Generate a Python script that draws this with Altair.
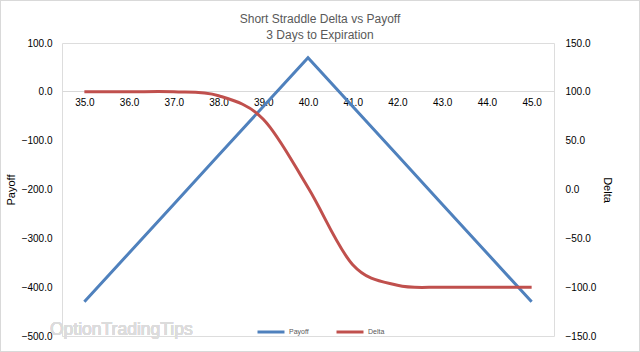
import altair as alt
import pandas as pd

# Data
prices = [35.0, 36.0, 37.0, 38.0, 39.0, 40.0, 41.0, 42.0, 43.0, 44.0, 45.0]
payoff = [-430, -330, -230, -130, -30, 70, -30, -130, -230, -330, -430]
delta = [100, 100, 100, 96, 72, 2, -77, -98, -100, -100, -100]

series_names = ["Payoff", "Delta"]
series_colors = ["#4F81BD", "#C0504D"]
payoff_ticks = [-500, -400, -300, -200, -100, 0, 100]
delta_ticks = [-150, -100, -50, 0, 50, 100, 150]

df = pd.DataFrame({"price": prices, "payoff": payoff, "delta": delta})

FONT = "Liberation Sans"
TXT = "#595959"
W, H = 492, 293

color = alt.Color(
    "series:N",
    scale=alt.Scale(domain=series_names, range=series_colors),
    legend=alt.Legend(
        orient="none", legendX=194, legendY=274, direction="horizontal",
        title=None, symbolType="stroke", symbolSize=729, symbolStrokeWidth=3,
        labelFontSize=7, labelColor=TXT, labelFont=FONT, labelOffset=3,
        columnPadding=21,
    ),
)

xenc = alt.X(
    "price:Q",
    scale=alt.Scale(domain=[34.5, 45.5], nice=False, zero=False),
    axis=alt.Axis(values=prices, format=".1f", offset=-245, ticks=False,
                  grid=False, domainColor="#D9D9D9", domainWidth=1,
                  labelPadding=6, title=None),
)

pay = alt.Chart(df).transform_calculate(series="'Payoff'").mark_line(
    strokeWidth=3
).encode(
    x=xenc,
    y=alt.Y("payoff:Q", scale=alt.Scale(domain=[-500, 100], nice=False),
            axis=alt.Axis(orient="left", values=payoff_ticks, format=".1f",
                          ticks=False, grid=False, domain=False,
                          labelPadding=10, title="Payoff", titlePadding=5,
                          titleFontWeight=400)),
    color=color,
)

dl = alt.Chart(df).transform_calculate(series="'Delta'").mark_line(
    strokeWidth=3, interpolate="cardinal", tension=0
).encode(
    x=alt.X("price:Q"),
    y=alt.Y("delta:Q", scale=alt.Scale(domain=[-150, 150], nice=False),
            axis=alt.Axis(orient="right", values=delta_ticks, format=".1f",
                          ticks=False, grid=False, domain=False,
                          labelPadding=11, title="Delta", titlePadding=6,
                          titleFontWeight=400)),
    color=color,
)

wm = alt.Chart(df).mark_text(
    text="OptionTradingTips", fontSize=17.5, font=FONT, color="#DCDCDC",
    align="left", baseline="middle"
).encode(x=alt.value(-12), y=alt.value(287))

border = alt.Chart(df).mark_rect(
    fill=None, stroke="#D9D9D9", strokeWidth=1
).encode(
    x=alt.value(-61.5), x2=alt.value(W + 85.5),
    y=alt.value(-42.5), y2=alt.value(H + 15.5),
)

chart = alt.layer(wm, pay, dl, border).resolve_scale(y="independent").properties(
    width=W, height=H,
    title=alt.TitleParams(
        text=["Short Straddle Delta vs Payoff", "3 Days to Expiration"],
        fontSize=12, font=FONT, color=TXT, fontWeight="normal",
        anchor="middle", dx=12, offset=0, dy=42, lineHeight=16,
    ),
    autosize=alt.AutoSizeParams(type="none"),
    padding={"left": 62, "top": 43, "right": 86, "bottom": 16},
).configure_axis(
    labelFont=FONT, labelFontSize=11, labelColor=TXT,
    titleFont=FONT, titleFontSize=12, titleColor=TXT, titleFontWeight=400,
).configure_view(stroke=None).configure(background="white")

chart.save("out.html", embed_options={"renderer": "svg", "actions": False})
